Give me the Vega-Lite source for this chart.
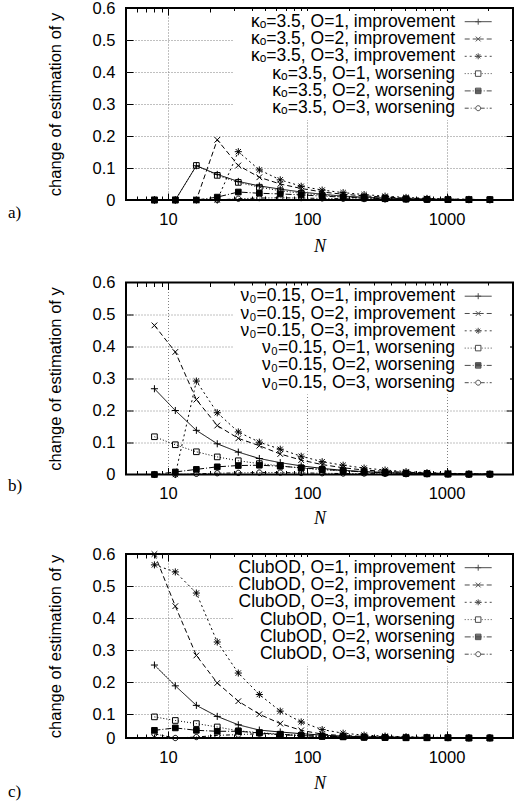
{
"$schema": "https://vega.github.io/schema/vega-lite/v6.json",
"background": "white",
"padding": {"left": 7, "top": -1, "right": 4, "bottom": 0},
"spacing": 16.5,
"config": {"view": {"stroke": "black", "strokeWidth": 2}, "font": "Liberation Sans"},
"datasets": {
"a": [
{"N":8,"s":"O=1, improvement","v":0},{"N":11.3,"s":"O=1, improvement","v":0},{"N":16,"s":"O=1, improvement","v":0.107},{"N":22.6,"s":"O=1, improvement","v":0.08},{"N":32,"s":"O=1, improvement","v":0.058},{"N":45.3,"s":"O=1, improvement","v":0.044},{"N":64,"s":"O=1, improvement","v":0.034},{"N":90.5,"s":"O=1, improvement","v":0.025},{"N":128,"s":"O=1, improvement","v":0.018},{"N":181,"s":"O=1, improvement","v":0.012},{"N":256,"s":"O=1, improvement","v":0.009},{"N":362,"s":"O=1, improvement","v":0.006},{"N":512,"s":"O=1, improvement","v":0.004},{"N":724,"s":"O=1, improvement","v":0.003},{"N":1024,"s":"O=1, improvement","v":0.002},{"N":1448,"s":"O=1, improvement","v":0.001},{"N":2048,"s":"O=1, improvement","v":0.001},
{"N":8,"s":"O=2, improvement","v":0},{"N":11.3,"s":"O=2, improvement","v":0},{"N":16,"s":"O=2, improvement","v":0},{"N":22.6,"s":"O=2, improvement","v":0.188},{"N":32,"s":"O=2, improvement","v":0.108},{"N":45.3,"s":"O=2, improvement","v":0.071},{"N":64,"s":"O=2, improvement","v":0.05},{"N":90.5,"s":"O=2, improvement","v":0.036},{"N":128,"s":"O=2, improvement","v":0.025},{"N":181,"s":"O=2, improvement","v":0.018},{"N":256,"s":"O=2, improvement","v":0.013},{"N":362,"s":"O=2, improvement","v":0.009},{"N":512,"s":"O=2, improvement","v":0.006},{"N":724,"s":"O=2, improvement","v":0.004},{"N":1024,"s":"O=2, improvement","v":0.003},{"N":1448,"s":"O=2, improvement","v":0.002},{"N":2048,"s":"O=2, improvement","v":0.001},
{"N":8,"s":"O=3, improvement","v":0},{"N":11.3,"s":"O=3, improvement","v":0},{"N":16,"s":"O=3, improvement","v":0},{"N":22.6,"s":"O=3, improvement","v":0},{"N":32,"s":"O=3, improvement","v":0.151},{"N":45.3,"s":"O=3, improvement","v":0.094},{"N":64,"s":"O=3, improvement","v":0.063},{"N":90.5,"s":"O=3, improvement","v":0.043},{"N":128,"s":"O=3, improvement","v":0.031},{"N":181,"s":"O=3, improvement","v":0.023},{"N":256,"s":"O=3, improvement","v":0.017},{"N":362,"s":"O=3, improvement","v":0.012},{"N":512,"s":"O=3, improvement","v":0.008},{"N":724,"s":"O=3, improvement","v":0.005},{"N":1024,"s":"O=3, improvement","v":0.003},{"N":1448,"s":"O=3, improvement","v":0.002},{"N":2048,"s":"O=3, improvement","v":0.001},
{"N":8,"s":"O=1, worsening","v":0},{"N":11.3,"s":"O=1, worsening","v":0},{"N":16,"s":"O=1, worsening","v":0.108},{"N":22.6,"s":"O=1, worsening","v":0.077},{"N":32,"s":"O=1, worsening","v":0.055},{"N":45.3,"s":"O=1, worsening","v":0.04},{"N":64,"s":"O=1, worsening","v":0.029},{"N":90.5,"s":"O=1, worsening","v":0.021},{"N":128,"s":"O=1, worsening","v":0.015},{"N":181,"s":"O=1, worsening","v":0.01},{"N":256,"s":"O=1, worsening","v":0.007},{"N":362,"s":"O=1, worsening","v":0.005},{"N":512,"s":"O=1, worsening","v":0.003},{"N":724,"s":"O=1, worsening","v":0.002},{"N":1024,"s":"O=1, worsening","v":0.001},{"N":1448,"s":"O=1, worsening","v":0.001},{"N":2048,"s":"O=1, worsening","v":0.001},
{"N":8,"s":"O=2, worsening","v":0},{"N":11.3,"s":"O=2, worsening","v":0},{"N":16,"s":"O=2, worsening","v":0},{"N":22.6,"s":"O=2, worsening","v":0.009},{"N":32,"s":"O=2, worsening","v":0.025},{"N":45.3,"s":"O=2, worsening","v":0.021},{"N":64,"s":"O=2, worsening","v":0.019},{"N":90.5,"s":"O=2, worsening","v":0.016},{"N":128,"s":"O=2, worsening","v":0.012},{"N":181,"s":"O=2, worsening","v":0.009},{"N":256,"s":"O=2, worsening","v":0.006},{"N":362,"s":"O=2, worsening","v":0.004},{"N":512,"s":"O=2, worsening","v":0.003},{"N":724,"s":"O=2, worsening","v":0.002},{"N":1024,"s":"O=2, worsening","v":0.001},{"N":1448,"s":"O=2, worsening","v":0.001},{"N":2048,"s":"O=2, worsening","v":0.001},
{"N":8,"s":"O=3, worsening","v":0},{"N":11.3,"s":"O=3, worsening","v":0},{"N":16,"s":"O=3, worsening","v":0},{"N":22.6,"s":"O=3, worsening","v":0},{"N":32,"s":"O=3, worsening","v":0.004},{"N":45.3,"s":"O=3, worsening","v":0.006},{"N":64,"s":"O=3, worsening","v":0.007},{"N":90.5,"s":"O=3, worsening","v":0.006},{"N":128,"s":"O=3, worsening","v":0.005},{"N":181,"s":"O=3, worsening","v":0.004},{"N":256,"s":"O=3, worsening","v":0.003},{"N":362,"s":"O=3, worsening","v":0.002},{"N":512,"s":"O=3, worsening","v":0.002},{"N":724,"s":"O=3, worsening","v":0.001},{"N":1024,"s":"O=3, worsening","v":0.001},{"N":1448,"s":"O=3, worsening","v":0},{"N":2048,"s":"O=3, worsening","v":0}
],
"b": [
{"N":8,"s":"O=1, improvement","v":0.268},{"N":11.3,"s":"O=1, improvement","v":0.2},{"N":16,"s":"O=1, improvement","v":0.138},{"N":22.6,"s":"O=1, improvement","v":0.096},{"N":32,"s":"O=1, improvement","v":0.07},{"N":45.3,"s":"O=1, improvement","v":0.05},{"N":64,"s":"O=1, improvement","v":0.037},{"N":90.5,"s":"O=1, improvement","v":0.027},{"N":128,"s":"O=1, improvement","v":0.019},{"N":181,"s":"O=1, improvement","v":0.013},{"N":256,"s":"O=1, improvement","v":0.009},{"N":362,"s":"O=1, improvement","v":0.006},{"N":512,"s":"O=1, improvement","v":0.004},{"N":724,"s":"O=1, improvement","v":0.003},{"N":1024,"s":"O=1, improvement","v":0.002},{"N":1448,"s":"O=1, improvement","v":0.001},{"N":2048,"s":"O=1, improvement","v":0.001},
{"N":8,"s":"O=2, improvement","v":0.466},{"N":11.3,"s":"O=2, improvement","v":0.383},{"N":16,"s":"O=2, improvement","v":0.234},{"N":22.6,"s":"O=2, improvement","v":0.153},{"N":32,"s":"O=2, improvement","v":0.113},{"N":45.3,"s":"O=2, improvement","v":0.09},{"N":64,"s":"O=2, improvement","v":0.064},{"N":90.5,"s":"O=2, improvement","v":0.045},{"N":128,"s":"O=2, improvement","v":0.031},{"N":181,"s":"O=2, improvement","v":0.021},{"N":256,"s":"O=2, improvement","v":0.014},{"N":362,"s":"O=2, improvement","v":0.01},{"N":512,"s":"O=2, improvement","v":0.007},{"N":724,"s":"O=2, improvement","v":0.005},{"N":1024,"s":"O=2, improvement","v":0.003},{"N":1448,"s":"O=2, improvement","v":0.002},{"N":2048,"s":"O=2, improvement","v":0.001},
{"N":8,"s":"O=3, improvement","v":0},{"N":11.3,"s":"O=3, improvement","v":0},{"N":16,"s":"O=3, improvement","v":0.292},{"N":22.6,"s":"O=3, improvement","v":0.193},{"N":32,"s":"O=3, improvement","v":0.133},{"N":45.3,"s":"O=3, improvement","v":0.101},{"N":64,"s":"O=3, improvement","v":0.079},{"N":90.5,"s":"O=3, improvement","v":0.057},{"N":128,"s":"O=3, improvement","v":0.04},{"N":181,"s":"O=3, improvement","v":0.029},{"N":256,"s":"O=3, improvement","v":0.02},{"N":362,"s":"O=3, improvement","v":0.014},{"N":512,"s":"O=3, improvement","v":0.009},{"N":724,"s":"O=3, improvement","v":0.006},{"N":1024,"s":"O=3, improvement","v":0.004},{"N":1448,"s":"O=3, improvement","v":0.002},{"N":2048,"s":"O=3, improvement","v":0.001},
{"N":8,"s":"O=1, worsening","v":0.118},{"N":11.3,"s":"O=1, worsening","v":0.093},{"N":16,"s":"O=1, worsening","v":0.071},{"N":22.6,"s":"O=1, worsening","v":0.055},{"N":32,"s":"O=1, worsening","v":0.043},{"N":45.3,"s":"O=1, worsening","v":0.034},{"N":64,"s":"O=1, worsening","v":0.027},{"N":90.5,"s":"O=1, worsening","v":0.02},{"N":128,"s":"O=1, worsening","v":0.015},{"N":181,"s":"O=1, worsening","v":0.011},{"N":256,"s":"O=1, worsening","v":0.008},{"N":362,"s":"O=1, worsening","v":0.005},{"N":512,"s":"O=1, worsening","v":0.003},{"N":724,"s":"O=1, worsening","v":0.002},{"N":1024,"s":"O=1, worsening","v":0.001},{"N":1448,"s":"O=1, worsening","v":0.001},{"N":2048,"s":"O=1, worsening","v":0.001},
{"N":8,"s":"O=2, worsening","v":0},{"N":11.3,"s":"O=2, worsening","v":0.008},{"N":16,"s":"O=2, worsening","v":0.016},{"N":22.6,"s":"O=2, worsening","v":0.024},{"N":32,"s":"O=2, worsening","v":0.028},{"N":45.3,"s":"O=2, worsening","v":0.029},{"N":64,"s":"O=2, worsening","v":0.026},{"N":90.5,"s":"O=2, worsening","v":0.021},{"N":128,"s":"O=2, worsening","v":0.016},{"N":181,"s":"O=2, worsening","v":0.012},{"N":256,"s":"O=2, worsening","v":0.008},{"N":362,"s":"O=2, worsening","v":0.006},{"N":512,"s":"O=2, worsening","v":0.004},{"N":724,"s":"O=2, worsening","v":0.003},{"N":1024,"s":"O=2, worsening","v":0.002},{"N":1448,"s":"O=2, worsening","v":0.001},{"N":2048,"s":"O=2, worsening","v":0.001},
{"N":8,"s":"O=3, worsening","v":0},{"N":11.3,"s":"O=3, worsening","v":0},{"N":16,"s":"O=3, worsening","v":0.002},{"N":22.6,"s":"O=3, worsening","v":0.004},{"N":32,"s":"O=3, worsening","v":0.005},{"N":45.3,"s":"O=3, worsening","v":0.006},{"N":64,"s":"O=3, worsening","v":0.006},{"N":90.5,"s":"O=3, worsening","v":0.005},{"N":128,"s":"O=3, worsening","v":0.004},{"N":181,"s":"O=3, worsening","v":0.003},{"N":256,"s":"O=3, worsening","v":0.003},{"N":362,"s":"O=3, worsening","v":0.002},{"N":512,"s":"O=3, worsening","v":0.001},{"N":724,"s":"O=3, worsening","v":0.001},{"N":1024,"s":"O=3, worsening","v":0.001},{"N":1448,"s":"O=3, worsening","v":0},{"N":2048,"s":"O=3, worsening","v":0}
],
"c": [
{"N":8,"s":"O=1, improvement","v":0.253},{"N":11.3,"s":"O=1, improvement","v":0.188},{"N":16,"s":"O=1, improvement","v":0.127},{"N":22.6,"s":"O=1, improvement","v":0.09},{"N":32,"s":"O=1, improvement","v":0.055},{"N":45.3,"s":"O=1, improvement","v":0.033},{"N":64,"s":"O=1, improvement","v":0.025},{"N":90.5,"s":"O=1, improvement","v":0.018},{"N":128,"s":"O=1, improvement","v":0.012},{"N":181,"s":"O=1, improvement","v":0.008},{"N":256,"s":"O=1, improvement","v":0.005},{"N":362,"s":"O=1, improvement","v":0.004},{"N":512,"s":"O=1, improvement","v":0.003},{"N":724,"s":"O=1, improvement","v":0.002},{"N":1024,"s":"O=1, improvement","v":0.001},{"N":1448,"s":"O=1, improvement","v":0.001},{"N":2048,"s":"O=1, improvement","v":0.001},
{"N":8,"s":"O=2, improvement","v":0.6},{"N":11.3,"s":"O=2, improvement","v":0.437},{"N":16,"s":"O=2, improvement","v":0.283},{"N":22.6,"s":"O=2, improvement","v":0.197},{"N":32,"s":"O=2, improvement","v":0.14},{"N":45.3,"s":"O=2, improvement","v":0.099},{"N":64,"s":"O=2, improvement","v":0.06},{"N":90.5,"s":"O=2, improvement","v":0.032},{"N":128,"s":"O=2, improvement","v":0.016},{"N":181,"s":"O=2, improvement","v":0.01},{"N":256,"s":"O=2, improvement","v":0.007},{"N":362,"s":"O=2, improvement","v":0.005},{"N":512,"s":"O=2, improvement","v":0.003},{"N":724,"s":"O=2, improvement","v":0.002},{"N":1024,"s":"O=2, improvement","v":0.001},{"N":1448,"s":"O=2, improvement","v":0.001},{"N":2048,"s":"O=2, improvement","v":0.001},
{"N":8,"s":"O=3, improvement","v":0.566},{"N":11.3,"s":"O=3, improvement","v":0.544},{"N":16,"s":"O=3, improvement","v":0.478},{"N":22.6,"s":"O=3, improvement","v":0.325},{"N":32,"s":"O=3, improvement","v":0.228},{"N":45.3,"s":"O=3, improvement","v":0.161},{"N":64,"s":"O=3, improvement","v":0.109},{"N":90.5,"s":"O=3, improvement","v":0.067},{"N":128,"s":"O=3, improvement","v":0.035},{"N":181,"s":"O=3, improvement","v":0.02},{"N":256,"s":"O=3, improvement","v":0.012},{"N":362,"s":"O=3, improvement","v":0.008},{"N":512,"s":"O=3, improvement","v":0.005},{"N":724,"s":"O=3, improvement","v":0.003},{"N":1024,"s":"O=3, improvement","v":0.002},{"N":1448,"s":"O=3, improvement","v":0.001},{"N":2048,"s":"O=3, improvement","v":0.001},
{"N":8,"s":"O=1, worsening","v":0.088},{"N":11.3,"s":"O=1, worsening","v":0.073},{"N":16,"s":"O=1, worsening","v":0.06},{"N":22.6,"s":"O=1, worsening","v":0.046},{"N":32,"s":"O=1, worsening","v":0.03},{"N":45.3,"s":"O=1, worsening","v":0.022},{"N":64,"s":"O=1, worsening","v":0.016},{"N":90.5,"s":"O=1, worsening","v":0.01},{"N":128,"s":"O=1, worsening","v":0.007},{"N":181,"s":"O=1, worsening","v":0.005},{"N":256,"s":"O=1, worsening","v":0.003},{"N":362,"s":"O=1, worsening","v":0.002},{"N":512,"s":"O=1, worsening","v":0.001},{"N":724,"s":"O=1, worsening","v":0.001},{"N":1024,"s":"O=1, worsening","v":0.001},{"N":1448,"s":"O=1, worsening","v":0},{"N":2048,"s":"O=1, worsening","v":0},
{"N":8,"s":"O=2, worsening","v":0.032},{"N":11.3,"s":"O=2, worsening","v":0.042},{"N":16,"s":"O=2, worsening","v":0.032},{"N":22.6,"s":"O=2, worsening","v":0.028},{"N":32,"s":"O=2, worsening","v":0.028},{"N":45.3,"s":"O=2, worsening","v":0.021},{"N":64,"s":"O=2, worsening","v":0.014},{"N":90.5,"s":"O=2, worsening","v":0.01},{"N":128,"s":"O=2, worsening","v":0.007},{"N":181,"s":"O=2, worsening","v":0.005},{"N":256,"s":"O=2, worsening","v":0.003},{"N":362,"s":"O=2, worsening","v":0.002},{"N":512,"s":"O=2, worsening","v":0.001},{"N":724,"s":"O=2, worsening","v":0.001},{"N":1024,"s":"O=2, worsening","v":0.001},{"N":1448,"s":"O=2, worsening","v":0},{"N":2048,"s":"O=2, worsening","v":0},
{"N":8,"s":"O=3, worsening","v":0.017},{"N":11.3,"s":"O=3, worsening","v":0},{"N":16,"s":"O=3, worsening","v":0.004},{"N":22.6,"s":"O=3, worsening","v":0.011},{"N":32,"s":"O=3, worsening","v":0.014},{"N":45.3,"s":"O=3, worsening","v":0.018},{"N":64,"s":"O=3, worsening","v":0.015},{"N":90.5,"s":"O=3, worsening","v":0.01},{"N":128,"s":"O=3, worsening","v":0.007},{"N":181,"s":"O=3, worsening","v":0.005},{"N":256,"s":"O=3, worsening","v":0.003},{"N":362,"s":"O=3, worsening","v":0.002},{"N":512,"s":"O=3, worsening","v":0.001},{"N":724,"s":"O=3, worsening","v":0.001},{"N":1024,"s":"O=3, worsening","v":0.001},{"N":1448,"s":"O=3, worsening","v":0},{"N":2048,"s":"O=3, worsening","v":0}
]
},
"vconcat": [
{
"width": 387, "height": 192,
"data": {"name": "a"},
"title": {"text": "a)", "orient": "bottom", "anchor": "start", "font": "Liberation Serif", "fontSize": 17, "fontWeight": "normal", "color": "black", "offset": 0, "dx": -39, "dy": -51},
"layer": [
{"mark": {"type": "line", "color": "black", "strokeWidth": 1},
 "encoding": {
  "x": {"field": "N", "type": "quantitative", "scale": {"type": "log", "domain": [5, 3000], "nice": false},
   "axis": {"orient": "bottom", "values": [6,7,8,9,10,20,30,40,50,60,70,80,90,100,200,300,400,500,600,700,800,900,1000,2000], "ticks": false, "domain": false, "grid": true, "gridColor": "#808080", "gridDash": [1,2], "gridWidth": 1, "gridOpacity": {"condition": {"test": "indexof([10,100,1000], datum.value) >= 0", "value": 1}, "value": 0}, "labelExpr": "indexof([10,100,1000], datum.value) >= 0 ? datum.value + '' : ''", "labelFont": "Liberation Sans", "labelFontSize": 16.5, "labelColor": "black", "labelPadding": 11, "labelOverlap": false, "labelFlush": false, "title": "N", "titleFont": "Liberation Serif", "titleFontStyle": "italic", "titleFontWeight": "normal", "titleFontSize": 18, "titleColor": "black", "titlePadding": 10}},
  "y": {"field": "v", "type": "quantitative", "scale": {"domain": [0, 0.6], "nice": false, "zero": false},
   "axis": {"orient": "left", "values": [0,0.1,0.2,0.3,0.4,0.5,0.6], "ticks": false, "domain": false, "grid": true, "gridColor": "#808080", "gridDash": [1,2], "gridWidth": 1, "gridOpacity": {"condition": {"test": "datum.value > 0.05 && datum.value < 0.55", "value": 1}, "value": 0}, "labelExpr": "datum.value == 0 ? '0' : format(datum.value, '.1f')", "labelFont": "Liberation Sans", "labelFontSize": 16.5, "labelColor": "black", "labelPadding": 11, "labelOverlap": false, "labelFlush": false, "title": "change of estimation of y", "titleFont": "Liberation Sans", "titleFontSize": 16.5, "titleFontWeight": "normal", "titleColor": "black", "titlePadding": 29}},
  "strokeDash": {"field": "s", "type": "nominal", "scale": {"domain": ["O=1, improvement","O=2, improvement","O=3, improvement","O=1, worsening","O=2, worsening","O=3, worsening"], "range": [[1,0],[5,3],[2,3],[1,2],[6,2,1,2],[4,2,1,2,1,2]]}, "legend": null}
 }},
{"mark": {"type": "point", "stroke": "black", "strokeWidth": 1, "size": 50, "opacity": 1},
 "encoding": {
  "x": {"field": "N", "type": "quantitative", "scale": {"type": "log", "domain": [5, 3000], "nice": false},
   "axis": {"orient": "top", "values": [6,7,8,9,10,20,30,40,50,60,70,80,90,100,200,300,400,500,600,700,800,900,1000,2000], "labels": false, "domain": false, "grid": false, "title": null, "ticks": true, "tickColor": "black", "tickWidth": 1, "tickSize": {"condition": {"test": "indexof([10,100,1000], datum.value) >= 0", "value": -7}, "value": -4}}},
  "y": {"field": "v", "type": "quantitative", "scale": {"domain": [0, 0.6], "nice": false, "zero": false},
   "axis": {"orient": "right", "values": [0.1,0.2,0.3,0.4,0.5], "labels": false, "domain": false, "grid": false, "title": null, "ticks": true, "tickColor": "black", "tickWidth": 1, "tickSize": -7}},
  "shape": {"field": "s", "type": "nominal", "scale": {"domain": ["O=1, improvement","O=2, improvement","O=3, improvement","O=1, worsening","O=2, worsening","O=3, worsening"], "range": ["M-1,0H1M0,-1V1","M-0.8,-0.8L0.8,0.8M-0.8,0.8L0.8,-0.8","M-1,0H1M0,-1V1M-0.75,-0.75L0.75,0.75M-0.75,0.75L0.75,-0.75","M-0.8,-0.8H0.8V0.8H-0.8Z","M-0.8,-0.8H0.8V0.8H-0.8Z","M0.75,0A0.75,0.75 0 1,1 -0.75,0A0.75,0.75 0 1,1 0.75,0Z"]}, "legend": null},
  "fill": {"field": "s", "type": "nominal", "scale": {"domain": ["O=1, improvement","O=2, improvement","O=3, improvement","O=1, worsening","O=2, worsening","O=3, worsening"], "range": ["transparent","transparent","transparent","transparent","black","transparent"]}, "legend": null}
 }},
{"transform": [{"filter": "datum.N < 0"}],
 "mark": {"type": "point", "color": "black", "filled": false, "strokeWidth": 1},
 "encoding": {
  "x": {"field": "N", "type": "quantitative", "scale": {"type": "log", "domain": [5, 3000], "nice": false},
   "axis": {"orient": "bottom", "values": [6,7,8,9,10,20,30,40,50,60,70,80,90,100,200,300,400,500,600,700,800,900,1000,2000], "labels": false, "domain": false, "grid": false, "title": null, "ticks": true, "tickColor": "black", "tickWidth": 1, "tickSize": {"condition": {"test": "indexof([10,100,1000], datum.value) >= 0", "value": -7}, "value": -4}}},
  "y": {"field": "v", "type": "quantitative", "scale": {"domain": [0, 0.6], "nice": false, "zero": false},
   "axis": {"orient": "left", "values": [0.1,0.2,0.3,0.4,0.5], "labels": false, "domain": false, "grid": false, "title": null, "ticks": true, "tickColor": "black", "tickWidth": 1, "tickSize": -7}},
  "shape": {"field": "s", "type": "nominal", "scale": {"domain": ["O=1, improvement","O=2, improvement","O=3, improvement","O=1, worsening","O=2, worsening","O=3, worsening"], "range": [
    "M21.82,0H24.52M22.87,0H23.47M23.17,-0.3V0.3",
    "M21.82,0H22.32M22.62,0H23.12M23.22,0H23.72M24.02,0H24.52M22.93,-0.24L23.41,0.24M22.93,0.24L23.41,-0.24",
    "M21.82,0H22.02M22.32,0H22.52M22.82,0H23.02M23.32,0H23.52M23.82,0H24.02M24.32,0H24.52M22.87,0H23.47M23.17,-0.3V0.3M22.96,-0.21L23.38,0.21M22.96,0.21L23.38,-0.21",
    "M21.82,0H21.92M22.12,0H22.22M22.42,0H22.52M22.72,0H22.82M23.52,0H23.62M23.82,0H23.92M24.12,0H24.22M24.42,0H24.52M22.895,-0.275H23.445V0.275H22.895Z",
    "M21.82,0H22.42M22.62,0H22.72M22.92,0H23.52M23.72,0H23.82M24.02,0H24.52M22.895,-0.275H23.445V0.275H22.895ZM22.895,-0.18H23.445M22.895,-0.09H23.445M22.895,0H23.445M22.895,0.09H23.445M22.895,0.18H23.445",
    "M21.82,0H22.22M22.42,0H22.52M22.72,0H22.82M23.42,0H23.82M24.02,0H24.12M24.32,0H24.52M23.42,0A0.25,0.25 0 1,1 22.92,0A0.25,0.25 0 1,1 23.42,0Z"]},
   "legend": {"orient": "top-right", "offset": 3, "padding": 3, "fillColor": "white", "title": null, "symbolSize": 400, "symbolStrokeColor": "black", "symbolStrokeWidth": 1, "symbolFillColor": "transparent", "labelAlign": "right", "labelOffset": 250, "labelLimit": 0, "labelFont": "Liberation Sans", "labelFontSize": 17.5, "labelColor": "black", "clipHeight": 15.4, "rowPadding": -1.7, "labelExpr": "'κₒ=3.5, ' + datum.label + '\u2800\u2800\u2800\u2800'"}}
 }}
],
"resolve": {"axis": {"x": "independent", "y": "independent"}, "scale": {"shape": "independent"}, "legend": {"shape": "independent"}}
},
{
"width": 387, "height": 192,
"data": {"name": "b"},
"title": {"text": "b)", "orient": "bottom", "anchor": "start", "font": "Liberation Serif", "fontSize": 17, "fontWeight": "normal", "color": "black", "offset": 0, "dx": -39, "dy": -49},
"layer": [
{"mark": {"type": "line", "color": "black", "strokeWidth": 1},
 "encoding": {
  "x": {"field": "N", "type": "quantitative", "scale": {"type": "log", "domain": [5, 3000], "nice": false},
   "axis": {"orient": "bottom", "values": [6,7,8,9,10,20,30,40,50,60,70,80,90,100,200,300,400,500,600,700,800,900,1000,2000], "ticks": false, "domain": false, "grid": true, "gridColor": "#808080", "gridDash": [1,2], "gridWidth": 1, "gridOpacity": {"condition": {"test": "indexof([10,100,1000], datum.value) >= 0", "value": 1}, "value": 0}, "labelExpr": "indexof([10,100,1000], datum.value) >= 0 ? datum.value + '' : ''", "labelFont": "Liberation Sans", "labelFontSize": 16.5, "labelColor": "black", "labelPadding": 11, "labelOverlap": false, "labelFlush": false, "title": "N", "titleFont": "Liberation Serif", "titleFontStyle": "italic", "titleFontWeight": "normal", "titleFontSize": 18, "titleColor": "black", "titlePadding": 7}},
  "y": {"field": "v", "type": "quantitative", "scale": {"domain": [0, 0.6], "nice": false, "zero": false},
   "axis": {"orient": "left", "values": [0,0.1,0.2,0.3,0.4,0.5,0.6], "ticks": false, "domain": false, "grid": true, "gridColor": "#808080", "gridDash": [1,2], "gridWidth": 1, "gridOpacity": {"condition": {"test": "datum.value > 0.05 && datum.value < 0.55", "value": 1}, "value": 0}, "labelExpr": "datum.value == 0 ? '0' : format(datum.value, '.1f')", "labelFont": "Liberation Sans", "labelFontSize": 16.5, "labelColor": "black", "labelPadding": 11, "labelOverlap": false, "labelFlush": false, "title": "change of estimation of y", "titleFont": "Liberation Sans", "titleFontSize": 16.5, "titleFontWeight": "normal", "titleColor": "black", "titlePadding": 29}},
  "strokeDash": {"field": "s", "type": "nominal", "scale": {"domain": ["O=1, improvement","O=2, improvement","O=3, improvement","O=1, worsening","O=2, worsening","O=3, worsening"], "range": [[1,0],[5,3],[2,3],[1,2],[6,2,1,2],[4,2,1,2,1,2]]}, "legend": null}
 }},
{"mark": {"type": "point", "stroke": "black", "strokeWidth": 1, "size": 50, "opacity": 1},
 "encoding": {
  "x": {"field": "N", "type": "quantitative", "scale": {"type": "log", "domain": [5, 3000], "nice": false},
   "axis": {"orient": "top", "values": [6,7,8,9,10,20,30,40,50,60,70,80,90,100,200,300,400,500,600,700,800,900,1000,2000], "labels": false, "domain": false, "grid": false, "title": null, "ticks": true, "tickColor": "black", "tickWidth": 1, "tickSize": {"condition": {"test": "indexof([10,100,1000], datum.value) >= 0", "value": -7}, "value": -4}}},
  "y": {"field": "v", "type": "quantitative", "scale": {"domain": [0, 0.6], "nice": false, "zero": false},
   "axis": {"orient": "right", "values": [0.1,0.2,0.3,0.4,0.5], "labels": false, "domain": false, "grid": false, "title": null, "ticks": true, "tickColor": "black", "tickWidth": 1, "tickSize": -7}},
  "shape": {"field": "s", "type": "nominal", "scale": {"domain": ["O=1, improvement","O=2, improvement","O=3, improvement","O=1, worsening","O=2, worsening","O=3, worsening"], "range": ["M-1,0H1M0,-1V1","M-0.8,-0.8L0.8,0.8M-0.8,0.8L0.8,-0.8","M-1,0H1M0,-1V1M-0.75,-0.75L0.75,0.75M-0.75,0.75L0.75,-0.75","M-0.8,-0.8H0.8V0.8H-0.8Z","M-0.8,-0.8H0.8V0.8H-0.8Z","M0.75,0A0.75,0.75 0 1,1 -0.75,0A0.75,0.75 0 1,1 0.75,0Z"]}, "legend": null},
  "fill": {"field": "s", "type": "nominal", "scale": {"domain": ["O=1, improvement","O=2, improvement","O=3, improvement","O=1, worsening","O=2, worsening","O=3, worsening"], "range": ["transparent","transparent","transparent","transparent","black","transparent"]}, "legend": null}
 }},
{"transform": [{"filter": "datum.N < 0"}],
 "mark": {"type": "point", "color": "black", "filled": false, "strokeWidth": 1},
 "encoding": {
  "x": {"field": "N", "type": "quantitative", "scale": {"type": "log", "domain": [5, 3000], "nice": false},
   "axis": {"orient": "bottom", "values": [6,7,8,9,10,20,30,40,50,60,70,80,90,100,200,300,400,500,600,700,800,900,1000,2000], "labels": false, "domain": false, "grid": false, "title": null, "ticks": true, "tickColor": "black", "tickWidth": 1, "tickSize": {"condition": {"test": "indexof([10,100,1000], datum.value) >= 0", "value": -7}, "value": -4}}},
  "y": {"field": "v", "type": "quantitative", "scale": {"domain": [0, 0.6], "nice": false, "zero": false},
   "axis": {"orient": "left", "values": [0.1,0.2,0.3,0.4,0.5], "labels": false, "domain": false, "grid": false, "title": null, "ticks": true, "tickColor": "black", "tickWidth": 1, "tickSize": -7}},
  "shape": {"field": "s", "type": "nominal", "scale": {"domain": ["O=1, improvement","O=2, improvement","O=3, improvement","O=1, worsening","O=2, worsening","O=3, worsening"], "range": [
    "M21.82,0H24.52M22.87,0H23.47M23.17,-0.3V0.3",
    "M21.82,0H22.32M22.62,0H23.12M23.22,0H23.72M24.02,0H24.52M22.93,-0.24L23.41,0.24M22.93,0.24L23.41,-0.24",
    "M21.82,0H22.02M22.32,0H22.52M22.82,0H23.02M23.32,0H23.52M23.82,0H24.02M24.32,0H24.52M22.87,0H23.47M23.17,-0.3V0.3M22.96,-0.21L23.38,0.21M22.96,0.21L23.38,-0.21",
    "M21.82,0H21.92M22.12,0H22.22M22.42,0H22.52M22.72,0H22.82M23.52,0H23.62M23.82,0H23.92M24.12,0H24.22M24.42,0H24.52M22.895,-0.275H23.445V0.275H22.895Z",
    "M21.82,0H22.42M22.62,0H22.72M22.92,0H23.52M23.72,0H23.82M24.02,0H24.52M22.895,-0.275H23.445V0.275H22.895ZM22.895,-0.18H23.445M22.895,-0.09H23.445M22.895,0H23.445M22.895,0.09H23.445M22.895,0.18H23.445",
    "M21.82,0H22.22M22.42,0H22.52M22.72,0H22.82M23.42,0H23.82M24.02,0H24.12M24.32,0H24.52M23.42,0A0.25,0.25 0 1,1 22.92,0A0.25,0.25 0 1,1 23.42,0Z"]},
   "legend": {"orient": "top-right", "offset": 3, "padding": 3, "fillColor": "white", "title": null, "symbolSize": 400, "symbolStrokeColor": "black", "symbolStrokeWidth": 1, "symbolFillColor": "transparent", "labelAlign": "right", "labelOffset": 250, "labelLimit": 0, "labelFont": "Liberation Sans", "labelFontSize": 17.5, "labelColor": "black", "clipHeight": 15.4, "rowPadding": -1.7, "labelExpr": "'ν₀=0.15, ' + datum.label + '\u2800\u2800\u2800\u2800'"}}
 }}
],
"resolve": {"axis": {"x": "independent", "y": "independent"}, "scale": {"shape": "independent"}, "legend": {"shape": "independent"}}
},
{
"width": 387, "height": 184,
"data": {"name": "c"},
"title": {"text": "c)", "orient": "bottom", "anchor": "start", "font": "Liberation Serif", "fontSize": 17, "fontWeight": "normal", "color": "black", "offset": 0, "dx": -39, "dy": -9},
"layer": [
{"mark": {"type": "line", "color": "black", "strokeWidth": 1},
 "encoding": {
  "x": {"field": "N", "type": "quantitative", "scale": {"type": "log", "domain": [5, 3000], "nice": false},
   "axis": {"orient": "bottom", "values": [6,7,8,9,10,20,30,40,50,60,70,80,90,100,200,300,400,500,600,700,800,900,1000,2000], "ticks": false, "domain": false, "grid": true, "gridColor": "#808080", "gridDash": [1,2], "gridWidth": 1, "gridOpacity": {"condition": {"test": "indexof([10,100,1000], datum.value) >= 0", "value": 1}, "value": 0}, "labelExpr": "indexof([10,100,1000], datum.value) >= 0 ? datum.value + '' : ''", "labelFont": "Liberation Sans", "labelFontSize": 16.5, "labelColor": "black", "labelPadding": 11, "labelOverlap": false, "labelFlush": false, "title": "N", "titleFont": "Liberation Serif", "titleFontStyle": "italic", "titleFontWeight": "normal", "titleFontSize": 18, "titleColor": "black", "titlePadding": 9}},
  "y": {"field": "v", "type": "quantitative", "scale": {"domain": [0, 0.1, 0.6], "range": [184, 160, 0], "nice": false, "zero": false},
   "axis": {"orient": "left", "values": [0,0.1,0.2,0.3,0.4,0.5,0.6], "ticks": false, "domain": false, "grid": true, "gridColor": "#808080", "gridDash": [1,2], "gridWidth": 1, "gridOpacity": {"condition": {"test": "datum.value > 0.05 && datum.value < 0.55", "value": 1}, "value": 0}, "labelExpr": "datum.value == 0 ? '0' : format(datum.value, '.1f')", "labelFont": "Liberation Sans", "labelFontSize": 16.5, "labelColor": "black", "labelPadding": 11, "labelOverlap": false, "labelFlush": false, "title": "change of estimation of y", "titleFont": "Liberation Sans", "titleFontSize": 16.5, "titleFontWeight": "normal", "titleColor": "black", "titlePadding": 29}},
  "strokeDash": {"field": "s", "type": "nominal", "scale": {"domain": ["O=1, improvement","O=2, improvement","O=3, improvement","O=1, worsening","O=2, worsening","O=3, worsening"], "range": [[1,0],[5,3],[2,3],[1,2],[6,2,1,2],[4,2,1,2,1,2]]}, "legend": null}
 }},
{"mark": {"type": "point", "stroke": "black", "strokeWidth": 1, "size": 50, "opacity": 1},
 "encoding": {
  "x": {"field": "N", "type": "quantitative", "scale": {"type": "log", "domain": [5, 3000], "nice": false},
   "axis": {"orient": "top", "values": [6,7,8,9,10,20,30,40,50,60,70,80,90,100,200,300,400,500,600,700,800,900,1000,2000], "labels": false, "domain": false, "grid": false, "title": null, "ticks": true, "tickColor": "black", "tickWidth": 1, "tickSize": {"condition": {"test": "indexof([10,100,1000], datum.value) >= 0", "value": -7}, "value": -4}}},
  "y": {"field": "v", "type": "quantitative", "scale": {"domain": [0, 0.1, 0.6], "range": [184, 160, 0], "nice": false, "zero": false},
   "axis": {"orient": "right", "values": [0.1,0.2,0.3,0.4,0.5], "labels": false, "domain": false, "grid": false, "title": null, "ticks": true, "tickColor": "black", "tickWidth": 1, "tickSize": -7}},
  "shape": {"field": "s", "type": "nominal", "scale": {"domain": ["O=1, improvement","O=2, improvement","O=3, improvement","O=1, worsening","O=2, worsening","O=3, worsening"], "range": ["M-1,0H1M0,-1V1","M-0.8,-0.8L0.8,0.8M-0.8,0.8L0.8,-0.8","M-1,0H1M0,-1V1M-0.75,-0.75L0.75,0.75M-0.75,0.75L0.75,-0.75","M-0.8,-0.8H0.8V0.8H-0.8Z","M-0.8,-0.8H0.8V0.8H-0.8Z","M0.75,0A0.75,0.75 0 1,1 -0.75,0A0.75,0.75 0 1,1 0.75,0Z"]}, "legend": null},
  "fill": {"field": "s", "type": "nominal", "scale": {"domain": ["O=1, improvement","O=2, improvement","O=3, improvement","O=1, worsening","O=2, worsening","O=3, worsening"], "range": ["transparent","transparent","transparent","transparent","black","transparent"]}, "legend": null}
 }},
{"transform": [{"filter": "datum.N < 0"}],
 "mark": {"type": "point", "color": "black", "filled": false, "strokeWidth": 1},
 "encoding": {
  "x": {"field": "N", "type": "quantitative", "scale": {"type": "log", "domain": [5, 3000], "nice": false},
   "axis": {"orient": "bottom", "values": [6,7,8,9,10,20,30,40,50,60,70,80,90,100,200,300,400,500,600,700,800,900,1000,2000], "labels": false, "domain": false, "grid": false, "title": null, "ticks": true, "tickColor": "black", "tickWidth": 1, "tickSize": {"condition": {"test": "indexof([10,100,1000], datum.value) >= 0", "value": -7}, "value": -4}}},
  "y": {"field": "v", "type": "quantitative", "scale": {"domain": [0, 0.1, 0.6], "range": [184, 160, 0], "nice": false, "zero": false},
   "axis": {"orient": "left", "values": [0.1,0.2,0.3,0.4,0.5], "labels": false, "domain": false, "grid": false, "title": null, "ticks": true, "tickColor": "black", "tickWidth": 1, "tickSize": -7}},
  "shape": {"field": "s", "type": "nominal", "scale": {"domain": ["O=1, improvement","O=2, improvement","O=3, improvement","O=1, worsening","O=2, worsening","O=3, worsening"], "range": [
    "M21.82,0H24.52M22.87,0H23.47M23.17,-0.3V0.3",
    "M21.82,0H22.32M22.62,0H23.12M23.22,0H23.72M24.02,0H24.52M22.93,-0.24L23.41,0.24M22.93,0.24L23.41,-0.24",
    "M21.82,0H22.02M22.32,0H22.52M22.82,0H23.02M23.32,0H23.52M23.82,0H24.02M24.32,0H24.52M22.87,0H23.47M23.17,-0.3V0.3M22.96,-0.21L23.38,0.21M22.96,0.21L23.38,-0.21",
    "M21.82,0H21.92M22.12,0H22.22M22.42,0H22.52M22.72,0H22.82M23.52,0H23.62M23.82,0H23.92M24.12,0H24.22M24.42,0H24.52M22.895,-0.275H23.445V0.275H22.895Z",
    "M21.82,0H22.42M22.62,0H22.72M22.92,0H23.52M23.72,0H23.82M24.02,0H24.52M22.895,-0.275H23.445V0.275H22.895ZM22.895,-0.18H23.445M22.895,-0.09H23.445M22.895,0H23.445M22.895,0.09H23.445M22.895,0.18H23.445",
    "M21.82,0H22.22M22.42,0H22.52M22.72,0H22.82M23.42,0H23.82M24.02,0H24.12M24.32,0H24.52M23.42,0A0.25,0.25 0 1,1 22.92,0A0.25,0.25 0 1,1 23.42,0Z"]},
   "legend": {"orient": "top-right", "offset": 3, "padding": 3, "fillColor": "white", "title": null, "symbolSize": 400, "symbolStrokeColor": "black", "symbolStrokeWidth": 1, "symbolFillColor": "transparent", "labelAlign": "right", "labelOffset": 250, "labelLimit": 0, "labelFont": "Liberation Sans", "labelFontSize": 17.5, "labelColor": "black", "clipHeight": 15.4, "rowPadding": -1.7, "labelExpr": "'ClubOD, ' + datum.label + '\u2800\u2800\u2800\u2800'"}}
 }}
],
"resolve": {"axis": {"x": "independent", "y": "independent"}, "scale": {"shape": "independent"}, "legend": {"shape": "independent"}}
}
]
}
